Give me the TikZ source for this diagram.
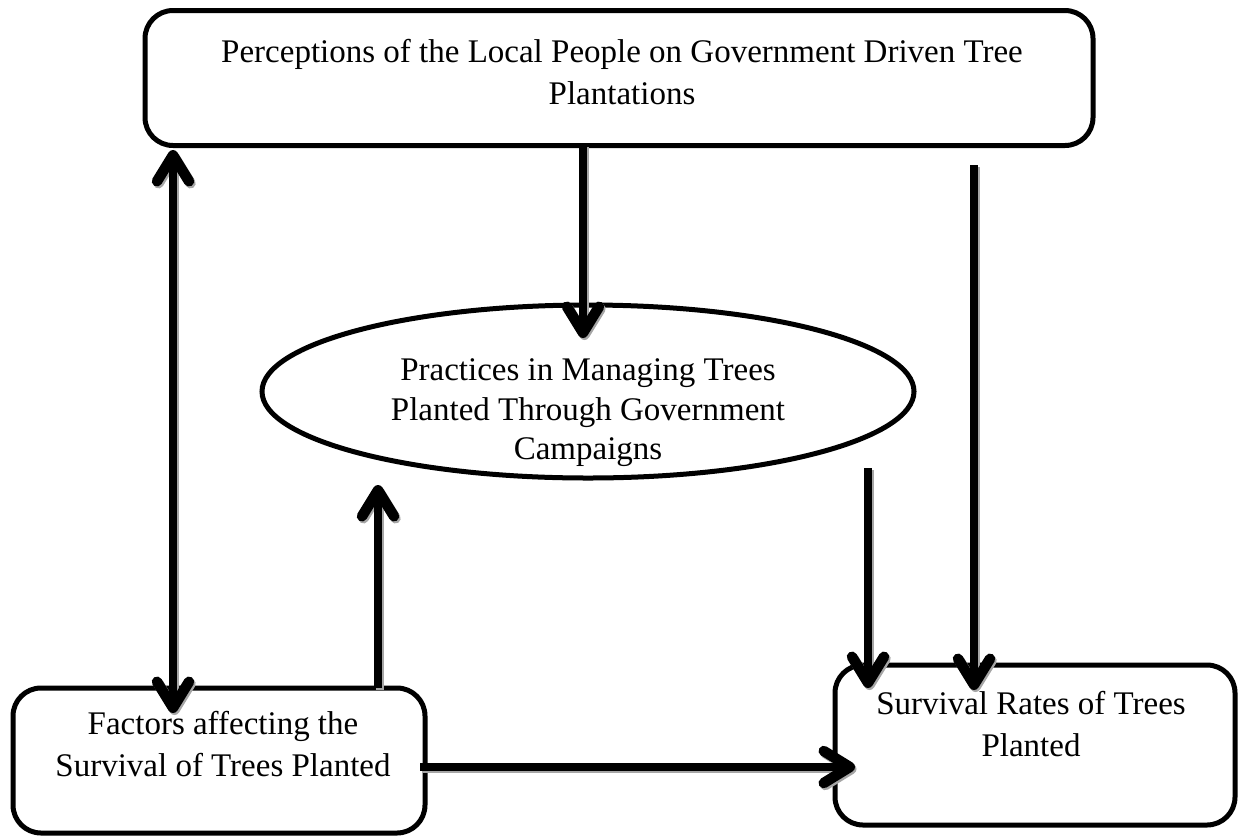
\documentclass[tikz,border=0pt]{standalone}
\usepackage{fontspec}
\setmainfont{Liberation Serif}
\usetikzlibrary{arrows.meta,shapes.geometric}
\begin{document}
\begin{tikzpicture}[x=1pt,y=-1pt,
  boxshape/.style={draw=black,line width=5pt,rounded corners=28pt,inner sep=0pt},
  ellshape/.style={draw=black,line width=5pt,ellipse,inner sep=0pt},
  txt/.style={align=center,inner sep=0pt,font=\fontsize{33}{42}\selectfont},
  etxt/.style={align=center,inner sep=0pt,font=\fontsize{33}{39.5}\selectfont},
  tip/.tip={Straight Barb[length=26pt,width=32pt,line width=2.5pt 1,round]},
  conn/.style={line width=8pt,-tip},
  dconn/.style={line width=8pt,tip-tip},
  shadow/.style={draw=black!35,transform canvas={shift={(1.5pt,-2pt)}}}
]
\useasboundingbox (0,0) rectangle (1246,836);
\fill[white] (0,0) rectangle (1246,836);

% shapes
\node[boxshape,minimum width=948pt,minimum height=135pt] (top) at (619,78) {};
\node[ellshape,minimum width=652pt,minimum height=173pt] (ell) at (588,391.5) {};
\node[boxshape,minimum width=412pt,minimum height=145pt] (fac) at (219,760.5) {};
\node[boxshape,minimum width=400pt,minimum height=160pt] (surv) at (1035,745) {};

% texts
\node[txt] (topT) at (622,72) {Perceptions of the Local People on Government Driven Tree\\Plantations};
\node[etxt] (ellT) at (588,413) {Practices in Managing Trees\\Planted Through Government\\Campaigns};
\node[txt] (facT) at (223,744) {Factors affecting the\\Survival of Trees Planted};
\node[txt] (survT) at (1031,724) {Survival Rates of Trees\\Planted};

% connector end points
\coordinate (d1a) at (173,150);
\coordinate (d1b) at (173,713);
\coordinate (a2s) at (583,145);
\coordinate (a2e) at (583,338);
\coordinate (a3s) at (974,165);
\coordinate (a3e) at (974,690);
\coordinate (a4s) at (868,468);
\coordinate (a4e) at (868,688);
\coordinate (a5s) at (378,688);
\coordinate (a5e) at (378,485);
\coordinate (a6s) at (420,767);
\coordinate (a6e) at (855,767);

\draw[dconn,shadow] (d1a) -- (d1b);
\draw[conn,shadow] (a2s) -- (a2e);
\draw[conn,shadow] (a3s) -- (a3e);
\draw[conn,shadow] (a4s) -- (a4e);
\draw[conn,shadow] (a5s) -- (a5e);
\draw[conn,shadow] (a6s) -- (a6e);

\draw[dconn] (d1a) -- (d1b);
\draw[conn] (a2s) -- (a2e);
\draw[conn] (a3s) -- (a3e);
\draw[conn] (a4s) -- (a4e);
\draw[conn] (a5s) -- (a5e);
\draw[conn] (a6s) -- (a6e);
\end{tikzpicture}
\end{document}
